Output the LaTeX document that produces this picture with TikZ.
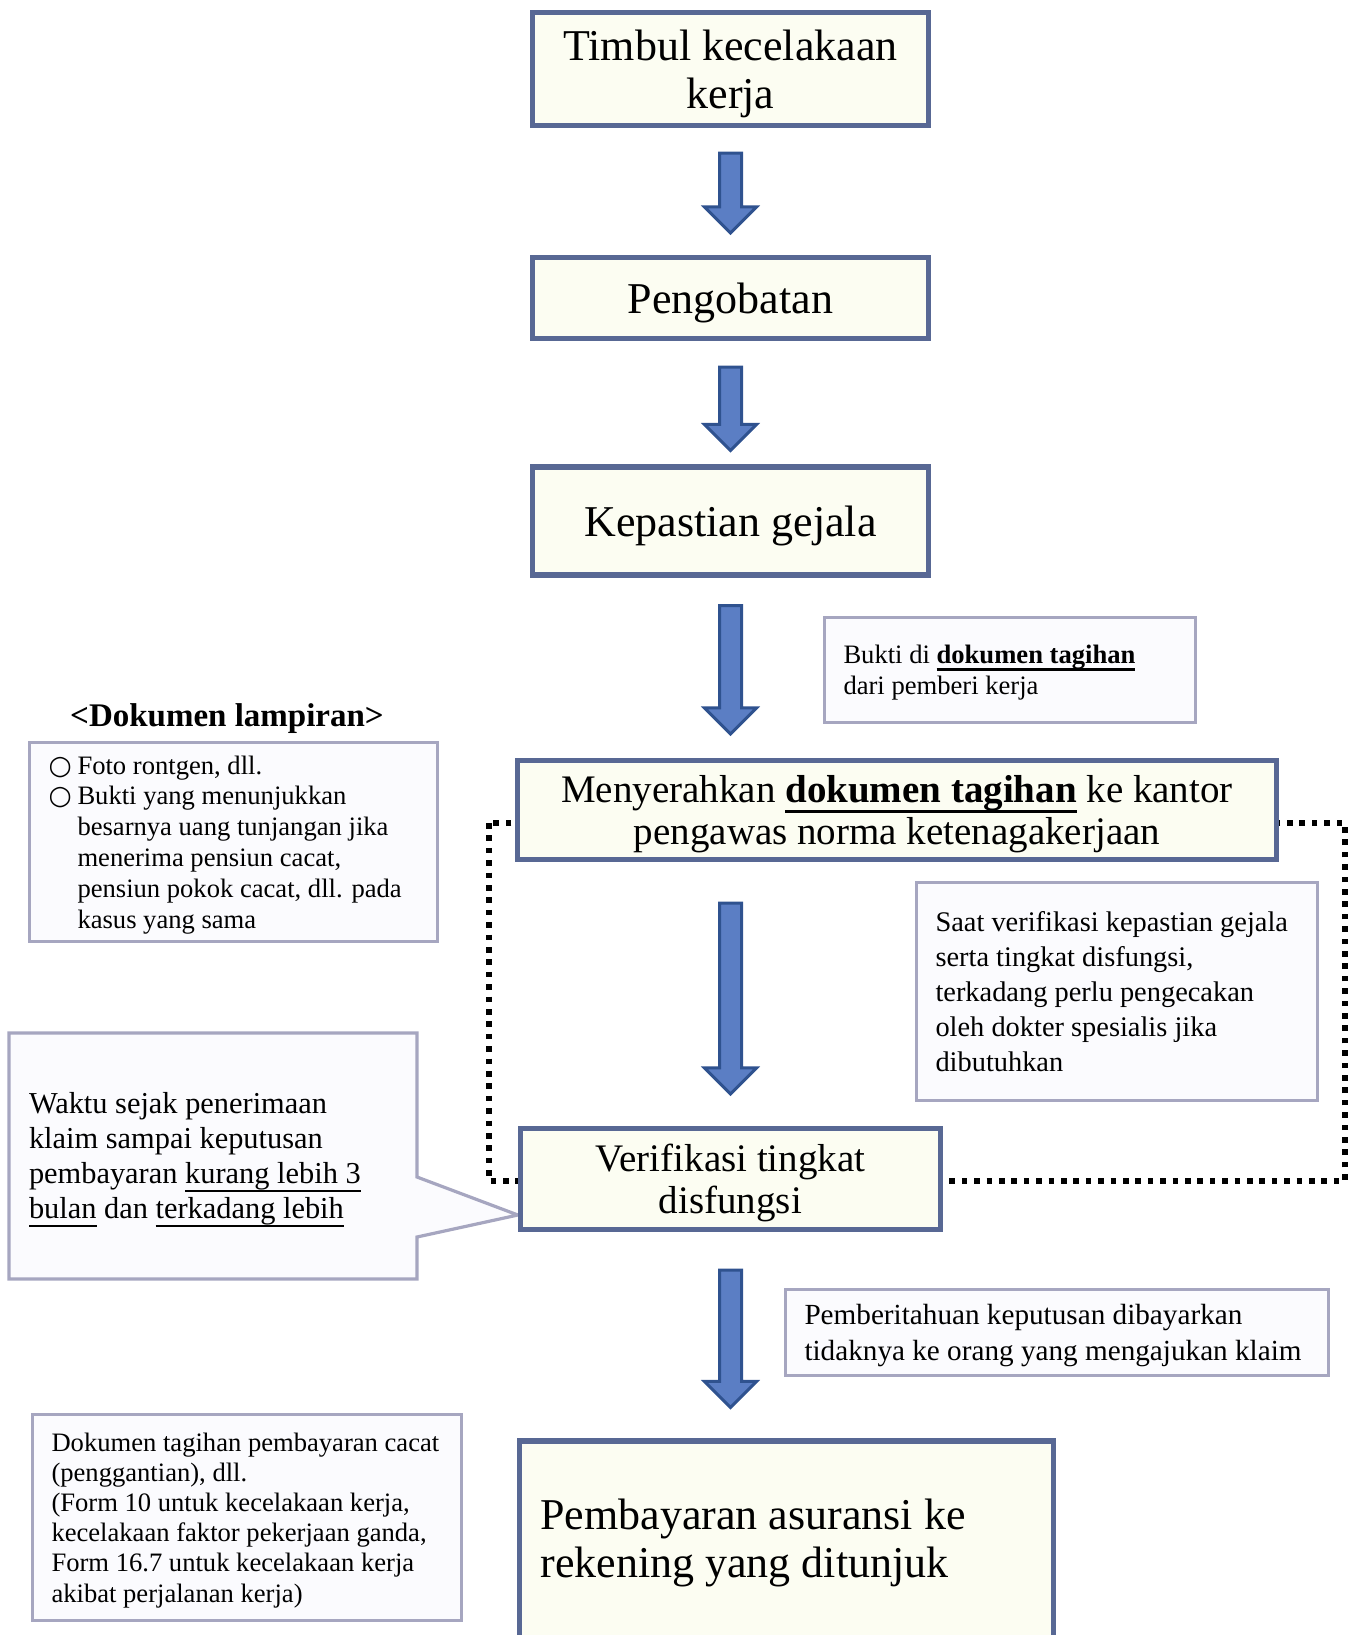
\documentclass[tikz,border=0pt]{standalone}
\usepackage{fontspec}
\setmainfont{Liberation Serif}
\newfontfamily\symfont{DejaVu Sans}
\usetikzlibrary{
    calc,
    backgrounds,
    positioning,
}
\newcommand{\undl}[2][1pt]{\leavevmode\setbox0\hbox{#2}\rlap{\rule[-0.27em]{\wd0}{#1}}\box0\relax}
\newcommand{\bul}{\makebox[14.5pt][l]{{\symfont ○}}}
\newcommand{\notelines}[2]{\makebox[#1][l]{\raisebox{-1.5pt}[\height][\depth]{\begin{tabular}{@{}l@{}}#2\end{tabular}}}}
\definecolor{mainline}{RGB}{88,104,148}
\definecolor{mainfill}{RGB}{252,253,242}
\definecolor{noteline}{RGB}{166,166,192}
\definecolor{notefill}{RGB}{251,251,254}
\definecolor{arrfill}{RGB}{91,126,196}
\definecolor{arrline}{RGB}{47,82,143}
\tikzstyle{mainbox}=[draw=mainline,fill=mainfill,line width=2.6pt,rectangle,align=center,text depth=0pt,font=\fontsize{22}{24}\selectfont]
\tikzstyle{notebox}=[draw=noteline,fill=notefill,line width=1.6pt,rectangle,inner xsep=9.5pt]
\tikzstyle{flowarr}=[fill=arrfill,draw=arrline,line width=1.5pt]
\tikzstyle{dotline}=[draw=black,line width=2.8pt,dash pattern=on 2.8pt off 3.4pt]

\begin{document}
\begin{tikzpicture}[x=0.5pt,y=-0.5pt]
    \useasboundingbox (0,0) rectangle (1352,1635);
    \clip (0,0) rectangle (1352,1635);
    \node[mainbox,minimum width=198pt,minimum height=56.5pt] (kec) at (730.5,69) {Timbul kecelakaan\\kerja};
    \node[mainbox,minimum width=198pt,minimum height=40.5pt] (obat) at (730.5,298) {Pengobatan};
    \node[mainbox,minimum width=198pt,minimum height=54pt] (gejala) at (730.5,521) {Kepastian gejala};
    \node[mainbox,minimum width=379.5pt,minimum height=49.5pt,font=\fontsize{19.5}{21}\selectfont] (serah) at (897,810)
        {Menyerahkan \undl[1.5pt]{\textbf{dokumen tagihan}} ke kantor\\pengawas norma ketenagakerjaan};
    \node[mainbox,minimum width=210pt,minimum height=50.5pt,font=\fontsize{19.5}{21}\selectfont] (verif) at (730.5,1179) {Verifikasi tingkat\\disfungsi};
    \node[mainbox,text depth={},minimum width=267pt,minimum height=100pt,inner xsep=10.5pt] (bayar) at (786.5,1541)
        {\notelines{246pt}{Pembayaran asuransi ke\\rekening yang ditunjuk}};

    \node[font=\fontsize{16.5}{19}\selectfont\bfseries] (judul) at (227,719) {<Dokumen lampiran>};
    \node[notebox,minimum width=204pt,minimum height=99.5pt,font=\fontsize{13.3}{15.4}\selectfont] (lamp) at (233.5,842)
        {\notelines{185pt}{\bul Foto rontgen, dll.\\
         \bul Bukti yang menunjukkan\\
         \hspace*{14.5pt}besarnya uang tunjangan jika\\
         \hspace*{14.5pt}menerima pensiun cacat,\\
         \hspace*{14.5pt}pensiun pokok cacat, dll. pada\\
         \hspace*{14.5pt}kasus yang sama}};
    \node[notebox,minimum width=185.5pt,minimum height=52.5pt,font=\fontsize{13.3}{15.6}\selectfont] (bukti) at (1010,670)
        {\notelines{166.5pt}{Bukti di \undl[1.5pt]{\textbf{dokumen tagihan}}\\dari pemberi kerja}};
    \node[notebox,minimum width=200.5pt,minimum height=109pt,font=\fontsize{14.2}{17.6}\selectfont] (saat) at (1117,991.5)
        {\notelines{181.5pt}{Saat verifikasi kepastian gejala\\serta tingkat disfungsi,\\terkadang perlu pengecakan\\oleh dokter spesialis jika\\dibutuhkan}};
    \node[inner xsep=10pt,outer sep=0pt,minimum width=204pt,minimum height=123pt,font=\fontsize{15.2}{17.5}\selectfont] (waktu) at (213,1156)
        {\notelines{184pt}{Waktu sejak penerimaan\\klaim sampai keputusan\\pembayaran \undl{kurang lebih 3}\\\undl{bulan} dan \undl{terkadang lebih}}};
    \node[notebox,minimum width=271.5pt,minimum height=43pt,font=\fontsize{14.6}{18}\selectfont] (kabar) at (1057,1332.5)
        {\notelines{252.5pt}{Pemberitahuan keputusan dibayarkan\\tidaknya ke orang yang mengajukan klaim}};
    \node[notebox,minimum width=214.5pt,minimum height=103pt,font=\fontsize{13.3}{15.1}\selectfont] (tagih) at (247,1517.5)
        {\notelines{195.5pt}{Dokumen tagihan pembayaran cacat\\(penggantian), dll.\\(Form 10 untuk kecelakaan kerja,\\kecelakaan faktor pekerjaan ganda,\\Form 16.7 untuk kecelakaan kerja\\akibat perjalanan kerja)}};

    \begin{scope}[on background layer]
        \draw[dotline] (489,823) rectangle (1345,1181);
        \draw[draw=noteline,fill=notefill,line width=1.6pt] (waktu.north west) -- (waktu.north east) -- ($(waktu.east)+(0,21)$)
            -- ($(verif.west)+(0,36)$) -- ($(waktu.east)+(0,81)$) -- (waktu.south east) -- (waktu.south west) -- cycle;
    \end{scope}

    \foreach \a/\b/\gs/\ge in {kec/obat/25/22,obat/gejala/26/14,gejala/serah/28/24,serah/verif/41/32,verif/bayar/38/31}{
        \path (\a.south -| verif.center) ++(0,\gs) coordinate (as);
        \path (\b.north -| verif.center) ++(0,-\ge) coordinate (ae);
        \draw[flowarr] ($(as)+(-11,0)$) -- ($(as)+(11,0)$) -- ($(ae)+(11,-26)$) -- ($(ae)+(26,-26)$) -- (ae)
            -- ($(ae)+(-26,-26)$) -- ($(ae)+(-11,-26)$) -- cycle;
    }
\end{tikzpicture}
\end{document}
